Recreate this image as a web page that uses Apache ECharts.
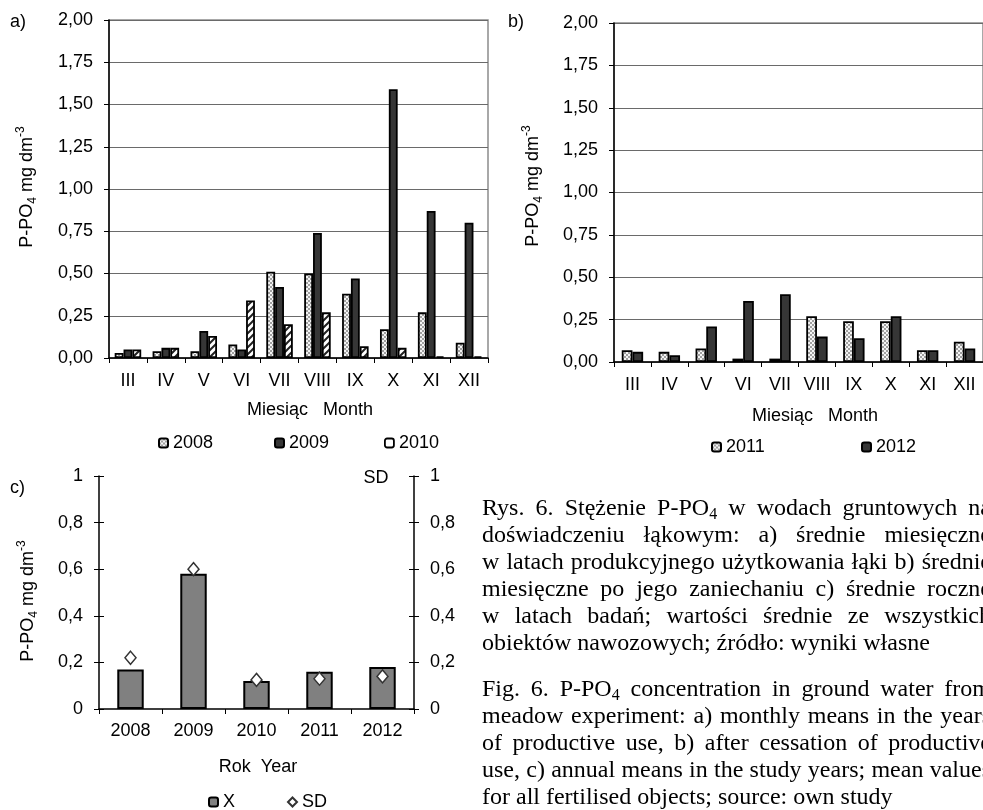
<!DOCTYPE html>
<html>
<head>
<meta charset="utf-8">
<script src="https://cdn.jsdelivr.net/npm/echarts@6/dist/echarts.min.js"></script>
<style>
html,body{margin:0;padding:0;width:983px;height:810px;overflow:hidden;background:#fff;}
#chart{position:absolute;left:0;top:0;width:983px;height:810px;}
#caption{position:absolute;left:482px;top:494px;width:509px;font-family:'Liberation Serif','Times New Roman',serif;font-size:24px;line-height:27px;color:#000;}
#caption .ln{text-align:justify;text-align-last:justify;}
#caption .last{text-align:left;text-align-last:left;}
#caption .p2{margin-top:19px;}
#caption sub{font-size:16px;line-height:0;vertical-align:-4px;}
</style>
</head>
<body>
<div id="chart"></div>
<div id="caption">
<div class="ln">Rys. 6. Stężenie P-PO<sub>4</sub> w wodach gruntowych na</div>
<div class="ln">doświadczeniu łąkowym: a) średnie miesięczne</div>
<div class="ln">w latach produkcyjnego użytkowania łąki b) średnie</div>
<div class="ln">miesięczne po jego zaniechaniu c) średnie roczne</div>
<div class="ln">w latach badań; wartości średnie ze wszystkich</div>
<div class="ln last">obiektów nawozowych; źródło: wyniki własne</div>
<div class="ln p2">Fig. 6. P-PO<sub>4</sub> concentration in ground water from</div>
<div class="ln">meadow experiment: a) monthly means in the years</div>
<div class="ln">of productive use, b) after cessation of productive</div>
<div class="ln">use, c) annual means in the study years; mean values</div>
<div class="ln last">for all fertilised objects; source: own study</div>
</div>
<script>
// ---- data ----
const months = ['III','IV','V','VI','VII','VIII','IX','X','XI','XII'];
const a2008 = [0.03,0.04,0.04,0.08,0.51,0.50,0.38,0.17,0.27,0.09];
const a2009 = [0.05,0.06,0.16,0.05,0.42,0.74,0.47,1.59,0.87,0.80];
const a2010 = [0.05,0.06,0.13,0.34,0.20,0.27,0.07,0.06,0.01,0.01];
const b2011 = [0.07,0.06,0.08,0.02,0.02,0.27,0.24,0.24,0.07,0.12];
const b2012 = [0.06,0.04,0.21,0.36,0.40,0.15,0.14,0.27,0.07,0.08];
const years = ['2008','2009','2010','2011','2012'];
const cMean = [0.17,0.58,0.12,0.16,0.18];
const cSD = [0.22,0.60,0.125,0.13,0.14];
const seriesNamesA = ['2008','2009','2010'];
const seriesNamesB = ['2011','2012'];
const seriesNamesC = ['X','SD'];

// ---- patterns ----
function dotPattern(){
  const c=document.createElement('canvas'); c.width=4; c.height=4;
  const g=c.getContext('2d');
  g.fillStyle='#f4f4f4'; g.fillRect(0,0,4,4);
  g.fillStyle='#a0a0a0'; g.fillRect(0,0,2,2); g.fillRect(2,2,2,2);
  return c;
}
function hatchPattern(){
  const s=7;
  const c=document.createElement('canvas'); c.width=s; c.height=s;
  const g=c.getContext('2d');
  g.fillStyle='#fff'; g.fillRect(0,0,s,s);
  g.strokeStyle='#222'; g.lineWidth=2;
  g.beginPath();
  g.moveTo(0,s); g.lineTo(s,0);
  g.moveTo(-1,1); g.lineTo(1,-1);
  g.moveTo(s-1,s+1); g.lineTo(s+1,s-1);
  g.stroke();
  return c;
}
const dotFill = {image: dotPattern(), repeat:'repeat'};
const hatchFill = {image: hatchPattern(), repeat:'repeat'};
const darkFill = '#363636';

const FONT = "'Liberation Sans', Arial, sans-serif";
const FS = 18;
const comma2 = v => v.toFixed(2).replace('.', ',');
const comma1 = v => (Math.round(v*10)/10).toString().replace('.', ',');

function monthX(gi){
  return {
    gridIndex: gi, type:'category', data: months,
    axisLine:{lineStyle:{color:'#000', width:1.5}},
    axisTick:{show:true, length:5, lineStyle:{color:'#000', width:1}},
    axisLabel:{interval:0, color:'#000', fontFamily:FONT, fontSize:FS, margin:14}
  };
}
function monthY(gi){
  return {
    gridIndex: gi, type:'value', min:0, max:2, interval:0.25,
    axisLine:{show:true, lineStyle:{color:'#000', width:1.5}},
    axisTick:{show:true, length:5, lineStyle:{color:'#000', width:1}},
    axisLabel:{formatter: comma2, color:'#000', fontFamily:FONT, fontSize:FS, margin:16},
    splitLine:{show:true, lineStyle:{color:'#6a6a6a', width:1}}
  };
}
function cY(gi, pos, inside, labels){
  return {
    gridIndex: gi, type:'value', min:0, max:1, interval:0.2, position: pos,
    axisLine:{show: labels, lineStyle:{color:'#000', width:1.5}},
    axisTick:{show:true, inside: inside, length:5, lineStyle:{color:'#000', width:1}},
    axisLabel:{show: labels, formatter: comma1, color:'#000', fontFamily:FONT, fontSize:FS, margin:16},
    splitLine:{show:false}
  };
}
const barBorder = {borderColor:'#000', borderWidth:1.8};

function yTitle(x, y){
  return {
    type:'text', x:x, y:y, rotation: Math.PI/2,
    style:{
      text:'{n|P-PO}{s|4}{n| mg dm}{p|-3}',
      align:'center', verticalAlign:'middle',
      rich:{
        n:{fontFamily:FONT, fontSize:FS, lineHeight:24, fill:'#000'},
        s:{fontFamily:FONT, fontSize:12, lineHeight:14, verticalAlign:'bottom', fill:'#000'},
        p:{fontFamily:FONT, fontSize:12, lineHeight:14, verticalAlign:'top', fill:'#000'}
      }
    }
  };
}
function txt(x, y, t, align){
  return {type:'text', x:x, y:y, style:{text:t, fontFamily:FONT, fontSize:FS, fill:'#000', align: align||'center', verticalAlign:'middle'}};
}
function legend(item, left, top){
  return {
    data:[item], left:left, top:top, padding:0, itemWidth:9, itemHeight:9, itemGap:0,
    textStyle:{fontFamily:FONT, fontSize:FS, color:'#000'},
    selectedMode:false
  };
}

const option = {
  animation:false,
  backgroundColor:'#fff',
  grid:[
    {left:109, top:20, width:379, height:338, show:true, borderColor:'#8c8c8c', borderWidth:1.5},
    {left:614, top:23, width:377, height:339, show:true, borderColor:'#8c8c8c', borderWidth:1.5},
    {left:99, top:476, width:315, height:233, show:false}
  ],
  xAxis:[
    monthX(0), monthX(1),
    {gridIndex:2, type:'category', data: years,
     axisLine:{lineStyle:{color:'#000', width:1.5}},
     axisTick:{show:true, length:5, lineStyle:{color:'#000', width:1}},
     axisLabel:{interval:0, color:'#000', fontFamily:FONT, fontSize:FS, margin:13}}
  ],
  yAxis:[
    monthY(0), monthY(1),
    cY(2,'left',false,true), cY(2,'right',false,true),
    cY(2,'left',true,false), cY(2,'right',true,false)
  ],
  legend:[
    legend(seriesNamesA[0], 158, 434), legend(seriesNamesA[1], 274, 434),
    legend({name:seriesNamesA[2], itemStyle:{color:'#fff', borderColor:'#000', borderWidth:1.8}}, 384, 434),
    legend(seriesNamesB[0], 711, 438), legend(seriesNamesB[1], 861, 438),
    legend(seriesNamesC[0], 208, 793), legend(seriesNamesC[1], 287, 793)
  ],
  series:[
    {name:seriesNamesA[0], type:'bar', xAxisIndex:0, yAxisIndex:0, data:a2008, barGap:'0%', barCategoryGap:'30%', itemStyle:Object.assign({color:dotFill}, barBorder)},
    {name:seriesNamesA[1], type:'bar', xAxisIndex:0, yAxisIndex:0, data:a2009, barGap:'0%', barCategoryGap:'30%', itemStyle:Object.assign({color:darkFill}, barBorder)},
    {name:seriesNamesA[2], type:'bar', xAxisIndex:0, yAxisIndex:0, data:a2010, barGap:'0%', barCategoryGap:'30%', itemStyle:Object.assign({color:hatchFill}, barBorder)},
    {name:seriesNamesB[0], type:'bar', xAxisIndex:1, yAxisIndex:1, data:b2011, barGap:'0%', barCategoryGap:'42%', itemStyle:Object.assign({color:dotFill}, barBorder)},
    {name:seriesNamesB[1], type:'bar', xAxisIndex:1, yAxisIndex:1, data:b2012, barGap:'0%', barCategoryGap:'42%', itemStyle:Object.assign({color:darkFill}, barBorder)},
    {name:seriesNamesC[0], type:'bar', xAxisIndex:2, yAxisIndex:2, data:cMean, barCategoryGap:'58%', itemStyle:{color:'#808080', borderColor:'#000', borderWidth:2}},
    {name:seriesNamesC[1], type:'scatter', xAxisIndex:2, yAxisIndex:3, data:cSD, symbol:'diamond', symbolSize:[11,13], z:5,
     itemStyle:{color:'#fff', opacity:1, borderColor:'#333', borderWidth:1.5}}
  ],
  graphic:[
    txt(10, 22, 'a)', 'left'),
    txt(508, 22, 'b)', 'left'),
    txt(10, 488, 'c)', 'left'),
    txt(310, 410, 'Miesiąc   Month'),
    txt(815, 416, 'Miesiąc   Month'),
    txt(258, 767, 'Rok  Year'),
    txt(376, 478, 'SD'),
    yTitle(27, 187),
    yTitle(533, 186),
    yTitle(28, 601)
  ]
};
const chart = echarts.init(document.getElementById('chart'), null, {renderer:'canvas'});
chart.setOption(option);
</script>
</body>
</html>
